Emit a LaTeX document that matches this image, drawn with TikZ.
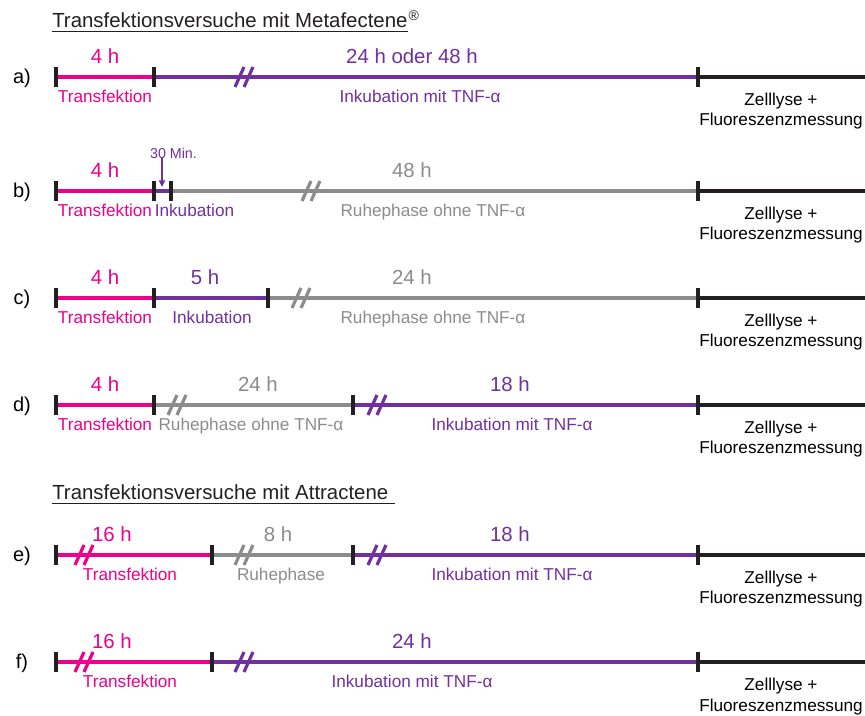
\documentclass[tikz,border=0pt]{standalone}
\usepackage{fontspec}
\setmainfont{Liberation Sans}
\usetikzlibrary{arrows.meta}
\definecolor{tpink}{HTML}{EC008C}
\definecolor{tpurple}{HTML}{7030A0}
\definecolor{tgray}{HTML}{8C8C8C}
\definecolor{tblack}{HTML}{231F20}
\tikzset{
  seg/.style={line width=2.6pt},
  tickmark/.style={line width=2.6pt, draw=tblack},
  brkmark/.style={line width=2.4pt},
  timelbl/.style={font=\fontsize{15.3}{18}\selectfont, anchor=base, inner sep=0pt},
  desclbl/.style={font=\fontsize{12.9}{15.5}\selectfont, anchor=base, inner sep=0pt},
  rowlbl/.style={font=\fontsize{15}{18}\selectfont, anchor=base, inner sep=0pt, text=black},
  titlelbl/.style={font=\fontsize{15.3}{18}\selectfont, anchor=base west, inner sep=0pt, text=tblack},
}
\newcommand\tlbreak[3]{\draw[brkmark,#3] (#1-10,#2+10) -- (#1-1,#2-10) (#1-1,#2+10) -- (#1+8,#2-10);}
\newcommand\tlticks[2]{\foreach \xx in {#1} {\draw[tickmark] (\xx,#2-10) -- (\xx,#2+10);}}
\newcommand\tlend[2]{%
  \node[desclbl] (#1z1) at (781,#2+29) {Zelllyse +};
  \node[desclbl] (#1z2) at (781,#2+49) {Fluoreszenzmessung};}
\begin{document}
\begin{tikzpicture}[x=0.75pt,y=-0.75pt]
\useasboundingbox (0,0) rectangle (865,716);

% ---------- title 1
\node[titlelbl] (t1) at (52,28) {Transfektionsversuche mit Metafectene};
\node[font=\fontsize{10.5}{12}\selectfont, anchor=base west, inner sep=0pt, text=tblack] (t1r) at ([xshift=0.5pt,yshift=5.5pt]t1.base east) {®};
\draw[line width=1.1pt, tblack] ([yshift=-2.6pt]t1.base west) -- ([yshift=-2.6pt]t1.base east);

% ---------- row a
\def\yy{77}
\node[rowlbl] (la) at (22,\yy+7) {a)};
\coordinate (a0) at (56,\yy); \coordinate (a1) at (154,\yy);
\coordinate (a2) at (698,\yy); \coordinate (a3) at (865,\yy);
\draw[seg,tpink] (a0) -- (a1);
\draw[seg,tpurple] (a1) -- (a2);
\draw[seg,tblack] (a2) -- (a3);
\tlbreak{245}{\yy}{tpurple}
\tlticks{56,154,698}{\yy}
\node[timelbl,text=tpink] (a4h) at (105,\yy-13) {4 h};
\node[desclbl,text=tpink] (atr) at (105,\yy+26) {Transfektion};
\node[timelbl,text=tpurple] (a24) at (412,\yy-13) {24 h oder 48 h};
\node[desclbl,text=tpurple] (ain) at (420,\yy+26) {Inkubation mit TNF-α};
\tlend{a}{\yy}

% ---------- row b
\def\yy{191}
\node[rowlbl] (lb) at (22,\yy+7) {b)};
\coordinate (b0) at (56,\yy); \coordinate (b1) at (154,\yy); \coordinate (b2) at (171,\yy);
\coordinate (b3) at (698,\yy); \coordinate (b4) at (865,\yy);
\draw[seg,tpink] (b0) -- (b1);
\draw[seg,tpurple] (b1) -- (b2);
\draw[seg,tgray] (b2) -- (b3);
\draw[seg,tblack] (b3) -- (b4);
\tlbreak{312}{\yy}{tgray}
\tlticks{56,154,171,698}{\yy}
\node[timelbl,text=tpink] (b4h) at (105,\yy-13) {4 h};
\node[desclbl,text=tpink] (btr) at (105,\yy+26) {Transfektion};
\node[desclbl,text=tpurple,anchor=base west] (bin) at (154.5,\yy+26) {Inkubation};
\node[font=\fontsize{10.7}{13}\selectfont, anchor=base, inner sep=0pt, text=tpurple] (b30) at (173.5,\yy-32) {30 Min.};
\coordinate (barr) at (162,\yy-4);
\draw[tpurple, line width=1.1pt, -{Triangle[length=5pt,width=4.5pt]}] (b30.south -| barr) ++(0,-2) -- (barr);
\node[timelbl,text=tgray] (b48) at (412,\yy-13) {48 h};
\node[desclbl,text=tgray] (bru) at (433,\yy+26) {Ruhephase ohne TNF-α};
\tlend{b}{\yy}

% ---------- row c
\def\yy{298}
\node[rowlbl] (lc) at (22,\yy+7) {c)};
\coordinate (c0) at (56,\yy); \coordinate (c1) at (154,\yy); \coordinate (c2) at (268,\yy);
\coordinate (c3) at (698,\yy); \coordinate (c4) at (865,\yy);
\draw[seg,tpink] (c0) -- (c1);
\draw[seg,tpurple] (c1) -- (c2);
\draw[seg,tgray] (c2) -- (c3);
\draw[seg,tblack] (c3) -- (c4);
\tlbreak{302}{\yy}{tgray}
\tlticks{56,154,268,698}{\yy}
\node[timelbl,text=tpink] (c4h) at (105,\yy-13) {4 h};
\node[desclbl,text=tpink] (ctr) at (105,\yy+26) {Transfektion};
\node[timelbl,text=tpurple] (c5h) at (205,\yy-13) {5 h};
\node[desclbl,text=tpurple] (cin) at (212,\yy+26) {Inkubation};
\node[timelbl,text=tgray] (c24) at (412,\yy-13) {24 h};
\node[desclbl,text=tgray] (cru) at (433,\yy+26) {Ruhephase ohne TNF-α};
\tlend{c}{\yy}

% ---------- row d
\def\yy{405}
\node[rowlbl] (ld) at (22,\yy+7) {d)};
\coordinate (d0) at (56,\yy); \coordinate (d1) at (154,\yy); \coordinate (d2) at (353,\yy);
\coordinate (d3) at (698,\yy); \coordinate (d4) at (865,\yy);
\draw[seg,tpink] (d0) -- (d1);
\draw[seg,tgray] (d1) -- (d2);
\draw[seg,tpurple] (d2) -- (d3);
\draw[seg,tblack] (d3) -- (d4);
\tlbreak{178}{\yy}{tgray}
\tlbreak{378}{\yy}{tpurple}
\tlticks{56,154,353,698}{\yy}
\node[timelbl,text=tpink] (d4h) at (105,\yy-13) {4 h};
\node[desclbl,text=tpink] (dtr) at (105,\yy+26) {Transfektion};
\node[timelbl,text=tgray] (d24) at (258,\yy-13) {24 h};
\node[desclbl,text=tgray] (dru) at (251,\yy+26) {Ruhephase ohne TNF-α};
\node[timelbl,text=tpurple] (d18) at (510,\yy-13) {18 h};
\node[desclbl,text=tpurple] (din) at (512,\yy+26) {Inkubation mit TNF-α};
\tlend{d}{\yy}

% ---------- title 2
\node[titlelbl] (t2) at (52,500) {Transfektionsversuche mit Attractene};
\draw[line width=1.1pt, tblack] ([yshift=-2.6pt]t2.base west) -- ([xshift=4.5pt,yshift=-2.6pt]t2.base east);

% ---------- row e
\def\yy{555}
\node[rowlbl] (le) at (22,\yy+7) {e)};
\coordinate (e0) at (56,\yy); \coordinate (e1) at (212,\yy); \coordinate (e2) at (353,\yy);
\coordinate (e3) at (698,\yy); \coordinate (e4) at (865,\yy);
\draw[seg,tpink] (e0) -- (e1);
\draw[seg,tgray] (e1) -- (e2);
\draw[seg,tpurple] (e2) -- (e3);
\draw[seg,tblack] (e3) -- (e4);
\tlbreak{85}{\yy}{tpink}
\tlbreak{245}{\yy}{tgray}
\tlbreak{378}{\yy}{tpurple}
\tlticks{56,212,353,698}{\yy}
\node[timelbl,text=tpink] (e16) at (112,\yy-13) {16 h};
\node[desclbl,text=tpink] (etr) at (130,\yy+26) {Transfektion};
\node[timelbl,text=tgray] (e8h) at (278,\yy-13) {8 h};
\node[desclbl,text=tgray] (eru) at (281,\yy+26) {Ruhephase};
\node[timelbl,text=tpurple] (e18) at (510,\yy-13) {18 h};
\node[desclbl,text=tpurple] (ein) at (512,\yy+26) {Inkubation mit TNF-α};
\tlend{e}{\yy}

% ---------- row f
\def\yy{662}
\node[rowlbl] (lf) at (22,\yy+7) {f)};
\coordinate (f0) at (56,\yy); \coordinate (f1) at (212,\yy);
\coordinate (f2) at (698,\yy); \coordinate (f3) at (865,\yy);
\draw[seg,tpink] (f0) -- (f1);
\draw[seg,tpurple] (f1) -- (f2);
\draw[seg,tblack] (f2) -- (f3);
\tlbreak{85}{\yy}{tpink}
\tlbreak{245}{\yy}{tpurple}
\tlticks{56,212,698}{\yy}
\node[timelbl,text=tpink] (f16) at (112,\yy-13) {16 h};
\node[desclbl,text=tpink] (ftr) at (130,\yy+26) {Transfektion};
\node[timelbl,text=tpurple] (f24) at (412,\yy-13) {24 h};
\node[desclbl,text=tpurple] (fin) at (412,\yy+26) {Inkubation mit TNF-α};
\tlend{f}{\yy}
\end{tikzpicture}
\end{document}
